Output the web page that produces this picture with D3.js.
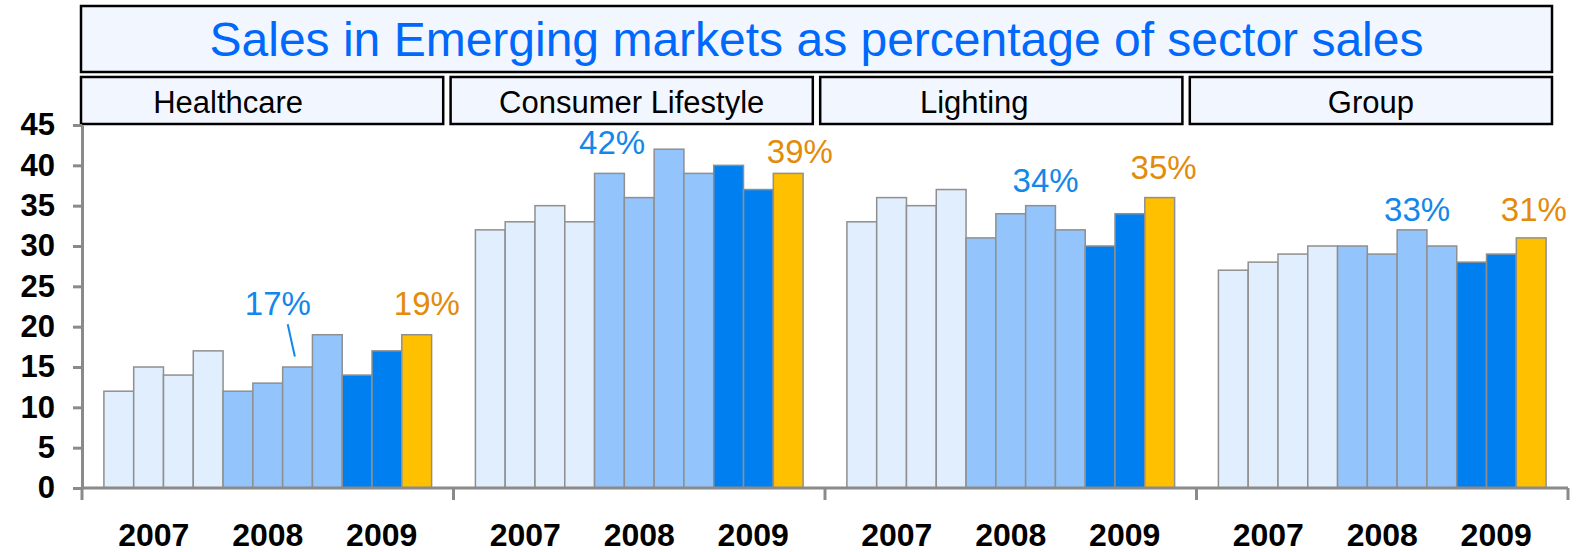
<!DOCTYPE html>
<html>
<head>
<meta charset="utf-8">
<script src="https://cdn.jsdelivr.net/npm/d3@7"></script>
<style>
  body { margin: 0; background: #fff; }
  text { font-family: "Liberation Sans", Arial, sans-serif; }
</style>
</head>
<body>
<div id="chart"></div>
<script>
// chart data
const sectors = ["Healthcare", "Consumer Lifestyle", "Lighting", "Group"];
const quarters = ["2007Q1", "2007Q2", "2007Q3", "2007Q4", "2008Q1", "2008Q2", "2008Q3", "2008Q4", "2009Q1", "2009Q2", "2009Q3"];
const years = ["2007", "2008", "2009"];
const healthcare = [12, 15, 14, 17, 12, 13, 15, 19, 14, 17, 19];
const consumerLifestyle = [32, 33, 35, 33, 39, 36, 42, 39, 40, 37, 39];
const lighting = [33, 36, 35, 37, 31, 34, 35, 32, 30, 34, 36];
const group = [27, 28, 29, 30, 30, 29, 32, 30, 28, 29, 31];
const yTicks = [0, 5, 10, 15, 20, 25, 30, 35, 40, 45];
// callouts: text + anchor in (bar units, value units)
const peakLabels = ["17%", "42%", "34%", "33%"];
const peakAnchors = [[5.84, 21.5], [4.59, 41.4], [6.67, 36.7], [6.67, 33.1]];
const latestLabels = ["19%", "39%", "35%", "31%"];
const latestAnchors = [[10.84, 21.4], [10.89, 40.3], [10.63, 38.3], [10.59, 33.1]];
const healthcareLeader = [[6.17, 20.3], [6.41, 16.3]];

const series = [healthcare, consumerLifestyle, lighting, group];

const W = 1579, H = 552;
const plot = { left: 82, right: 1568, top: 125, bottom: 488 };

const svg = d3.select("#chart").append("svg")
    .attr("width", W)
    .attr("height", H);

const y = d3.scaleLinear().domain([0, 45]).range([plot.bottom, plot.top]);

const panelX = d3.scaleBand()
    .domain(sectors)
    .range([plot.left, plot.right])
    .padding(0);
const pw = panelX.bandwidth();

const barX = d3.scaleBand()
    .domain(quarters)
    .range([0, pw])
    .paddingInner(0)
    .paddingOuter(0.735);

const yearX = d3.scalePoint()
    .domain(years)
    .range([0, pw])
    .padding(0.63);

const barColor = q => {
    if (q === "2009Q3") return "#FFC000";
    if (q.startsWith("2009")) return "#0080F0";
    if (q.startsWith("2008")) return "#93C5FC";
    return "#E0EEFD";
};

// title box
const headX = d3.scaleBand()
    .domain(sectors)
    .range([81, 1552])
    .paddingInner(0.02);

svg.append("rect")
    .attr("x", 81).attr("y", 6)
    .attr("width", 1552 - 81).attr("height", 66)
    .attr("fill", "#F2F7FF")
    .attr("stroke", "#000")
    .attr("stroke-width", 2.5);
svg.append("text")
    .attr("x", (81 + 1552) / 2)
    .attr("y", 56)
    .attr("text-anchor", "middle")
    .attr("font-size", 48)
    .attr("fill", "#0068FA")
    .text("Sales in Emerging markets as percentage of sector sales");

// sector header boxes
const headShift = { "Healthcare": -34, "Consumer Lifestyle": 0, "Lighting": -27, "Group": 0 };
const heads = svg.append("g").selectAll("g")
    .data(sectors)
    .enter().append("g")
    .attr("transform", d => "translate(" + headX(d) + ",0)");
heads.append("rect")
    .attr("x", 0).attr("y", 77)
    .attr("width", headX.bandwidth()).attr("height", 47)
    .attr("fill", "#F2F7FF")
    .attr("stroke", "#000")
    .attr("stroke-width", 2.5);
heads.append("text")
    .attr("x", d => headX.bandwidth() / 2 + headShift[d])
    .attr("y", 113)
    .attr("text-anchor", "middle")
    .attr("font-size", 31)
    .attr("fill", "#000")
    .text(d => d);

// y axis
const yAxis = svg.append("g")
    .attr("transform", "translate(" + plot.left + ",0)")
    .call(d3.axisLeft(y).tickValues(yTicks).tickSize(9).tickSizeOuter(0).tickPadding(18));
yAxis.select(".domain").attr("stroke", "#8a8a8a").attr("stroke-width", 3);
yAxis.selectAll(".tick line").attr("stroke", "#8a8a8a").attr("stroke-width", 3);
yAxis.selectAll(".tick text")
    .attr("font-family", "'Liberation Sans', Arial, sans-serif")
    .attr("font-size", 31)
    .attr("font-weight", "bold")
    .attr("fill", "#000");

// panels
sectors.forEach((s, i) => {
    const g = svg.append("g").attr("transform", "translate(" + panelX(s) + ",0)");
    const vals = series[i];
    const bu = v => barX(quarters[0]) + v * barX.step();

    g.selectAll("rect.bar")
        .data(quarters.map((q, k) => ({ q: q, v: vals[k] })))
        .enter().append("rect")
        .attr("class", "bar")
        .attr("x", d => barX(d.q))
        .attr("y", d => y(d.v))
        .attr("width", barX.bandwidth())
        .attr("height", d => y(0) - y(d.v))
        .attr("fill", d => barColor(d.q))
        .attr("stroke", "#8f8f8f")
        .attr("stroke-width", 1.5);

    g.selectAll("text.year")
        .data(years)
        .enter().append("text")
        .attr("class", "year")
        .attr("x", d => yearX(d))
        .attr("y", 546)
        .attr("text-anchor", "middle")
        .attr("font-size", 32)
        .attr("font-weight", "bold")
        .attr("fill", "#000")
        .text(d => d);

    g.append("text")
        .attr("x", bu(peakAnchors[i][0]))
        .attr("y", y(peakAnchors[i][1]))
        .attr("text-anchor", "middle")
        .attr("font-size", 33)
        .attr("fill", "#1387EA")
        .text(peakLabels[i]);

    g.append("text")
        .attr("x", bu(latestAnchors[i][0]))
        .attr("y", y(latestAnchors[i][1]))
        .attr("text-anchor", "middle")
        .attr("font-size", 33)
        .attr("fill", "#E38B0A")
        .text(latestLabels[i]);

    if (s === "Healthcare") {
        g.append("line")
            .attr("x1", bu(healthcareLeader[0][0])).attr("y1", y(healthcareLeader[0][1]))
            .attr("x2", bu(healthcareLeader[1][0])).attr("y2", y(healthcareLeader[1][1]))
            .attr("stroke", "#1387EA")
            .attr("stroke-width", 2);
    }
});

// x axis baseline with panel separators
svg.append("line")
    .attr("x1", plot.left).attr("x2", plot.right)
    .attr("y1", y(0)).attr("y2", y(0))
    .attr("stroke", "#8a8a8a")
    .attr("stroke-width", 3);
const bounds = sectors.map(s => panelX(s)).concat([plot.right]);
svg.selectAll("line.sep")
    .data(bounds)
    .enter().append("line")
    .attr("class", "sep")
    .attr("x1", d => d).attr("x2", d => d)
    .attr("y1", y(0)).attr("y2", y(0) + 12)
    .attr("stroke", "#8a8a8a")
    .attr("stroke-width", 3);
</script>
</body>
</html>
